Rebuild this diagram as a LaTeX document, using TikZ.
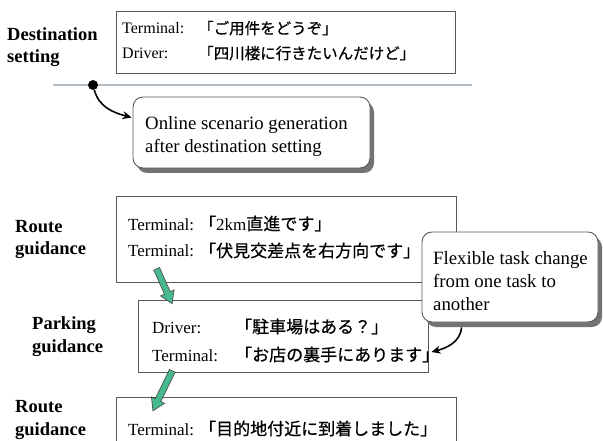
\documentclass[tikz,border=0pt]{standalone}
\usepackage{fontspec}
\setmainfont{Liberation Serif}
\newfontfamily\jpfont[FakeBold=0.6]{Noto Sans CJK JP}
\usetikzlibrary{arrows.meta,calc,shadows}
\definecolor{boxgray}{HTML}{5A5A5A}
\definecolor{rulegray}{HTML}{B4BCC4}
\definecolor{arrowgreen}{HTML}{48B98C}
\tikzset{
  dlgbox/.style={draw=boxgray,line width=1pt,inner sep=0pt},
  notebox/.style={draw=boxgray,line width=0.9pt,fill=white,rounded corners=10pt,inner sep=0pt,
    drop shadow={shadow xshift=4pt,shadow yshift=-5pt,fill=black!55,opacity=1}},
  phase/.style={anchor=west,align=left,inner sep=0pt,font=\bfseries\fontsize{18.5}{22.5}\selectfont},
  notetext/.style={anchor=west,align=left,inner sep=0pt,font=\fontsize{18.8}{23}\selectfont},
  spk/.style={anchor=base west,inner sep=0pt,font=\fontsize{17}{20}\selectfont},
  utt/.style={anchor=base west,inner sep=0pt,font=\jpfont\fontsize{17}{20}\selectfont},
  bendarrow/.style={line width=1.6pt,-{Stealth[length=9pt,width=8pt]}},
  taskarrow/.style={draw=arrowgreen,line width=5.4pt,shorten <=0.8pt,shorten >=1.6pt,
    -{Triangle[length=10.5pt,width=12.4pt]},
    preaction={draw=black!70,line width=7pt,shorten <=0pt,shorten >=0pt,-{Triangle[length=13pt,width=15pt]}}},
}
\begin{document}
\begin{tikzpicture}[x=1pt,y=1pt]
\useasboundingbox (0,0) rectangle (603,-441);
% dialogue boxes
\node[dlgbox,minimum width=339pt,minimum height=62pt] (dest) at (285.5,-43) {};
\node[dlgbox,minimum width=340pt,minimum height=85pt] (route) at (286,-239.5) {};
\node[dlgbox,minimum width=290pt,minimum height=72pt] (park) at (283,-336) {};
\node[dlgbox,minimum width=340pt,minimum height=60pt] (arrive) at (286,-427) {};
% phase names
\node[phase] (ldest) at (7,-47) {Destination\\setting};
\node[phase] (lroute) at (15,-239.5) {Route\\guidance};
\node[phase] (lpark) at (32,-336.5) {Parking\\guidance};
\node[phase] (larrive) at (15,-420) {Route\\guidance};
% utterances
\node[spk,font=\fontsize{16}{19}\selectfont] (s1) at (122,-34) {Terminal:};
\node[utt,font=\jpfont\fontsize{15.5}{19}\selectfont] (u1) at (198,-34) {「ご用件をどうぞ」};
\node[spk,font=\fontsize{16}{19}\selectfont] (s2) at (122,-59) {Driver:};
\node[utt,font=\jpfont\fontsize{15.5}{19}\selectfont] (u2) at (198,-59) {「四川楼に行きたいんだけど」};
\node[spk] (s3) at (128,-230) {Terminal:};
\node[utt] (u3) at (199,-230) {「{\rmfamily 2km}直進です」};
\node[spk] (s4) at (128,-257) {Terminal:};
\node[utt] (u4) at (199,-257) {「伏見交差点を右方向です」};
\node[spk] (s5) at (152,-333) {Driver:};
\node[utt] (u5) at (235,-333) {「駐車場はある？」};
\node[spk] (s6) at (152,-361) {Terminal:};
\node[utt] (u6) at (235,-361) {「お店の裏手にあります」};
\node[spk] (s7) at (128,-435) {Terminal:};
\node[utt] (u7) at (199,-435) {「目的地付近に到着しました」};
% separator with trigger point
\coordinate (sepL) at (53,-85);
\coordinate (sepR) at (472,-85);
\draw[rulegray,line width=1.5pt] (sepL) -- (sepR);
\node[circle,fill=black,minimum size=10pt,inner sep=0pt] (trig) at (93,-85) {};
% notes
\node[notebox,minimum width=237pt,minimum height=71pt] (online) at (251.5,-132.5) {};
\node[notetext] (onlinetxt) at (145,-137) {Online scenario generation\\after destination setting};
\node[notebox,minimum width=176pt,minimum height=90pt] (flex) at (510,-277) {};
\node[notetext] (flextxt) at (433,-281.5) {Flexible task change\\from one task to\\another};
% connectors
\coordinate (onlinein) at ($(online.west)+(-1,15)$);
\draw[bendarrow] (trig) to[out=-75,in=165] (onlinein);
\coordinate (flexfoot) at ($(flex.south west)+(40,-5)$);
\coordinate (parkin) at ($(park.east)+(3,-16)$);
\draw[bendarrow] (flexfoot) to[out=-95,in=15] (parkin);
\coordinate (g1a) at ($(route.south west)+(41,14)$);
\coordinate (g1b) at ($(park.north west)+(35,-5)$);
\coordinate (g2a) at ($(park.south west)+(35,2)$);
\coordinate (g2b) at ($(arrive.north west)+(37,-15)$);
\draw[taskarrow] (g1a) -- (g1b);
\draw[taskarrow] (g2a) -- (g2b);
\end{tikzpicture}
\end{document}
